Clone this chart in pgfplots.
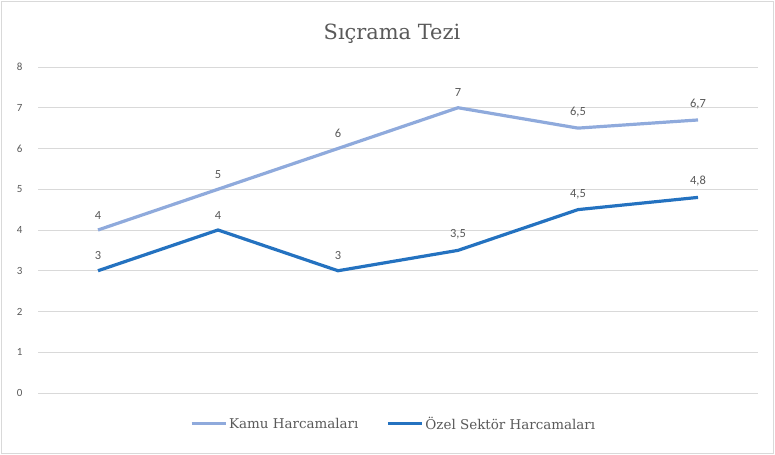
\documentclass[border=0pt]{standalone}
\usepackage{pgfplots}
\pgfplotsset{compat=1.18}
\usepackage{fontspec}
\setmainfont{Carlito}
\newfontfamily\serifcam{DejaVu Serif}
\definecolor{kamu}{RGB}{143,170,220}
\definecolor{ozel}{RGB}{36,114,192}
\definecolor{txt}{RGB}{89,89,89}
\definecolor{grd}{RGB}{217,217,217}
\begin{document}
\begin{tikzpicture}[x=1bp,y=1bp]
\useasboundingbox (0,0) rectangle (775,455);
\draw[grd, line width=1bp] (1.5,1.5) rectangle (773.5,453.5);
\node[txt, font=\serifcam\fontsize{21}{25}\selectfont] at (392,421) {Sıçrama Tezi};
\begin{axis}[
  at={(38bp,62bp)}, anchor=south west,
  scale only axis, width=720bp, height=326bp,
  xmin=-0.5, xmax=5.5, ymin=0, ymax=8,
  xtick=\empty, ytick={0,1,...,8},
  axis line style={draw=none},
  tick style={draw=none},
  ymajorgrids, grid style={grd, line width=0.8bp},
  yticklabel style={txt, font=\fontsize{11}{13}\selectfont, xshift=-12bp},
  /pgf/number format/assume math mode=true,
  /pgf/number format/use comma,
  nodes near coords,
  every node near coord/.append style={txt, font=\fontsize{12.5}{14}\selectfont, anchor=south, yshift=6bp},
  legend style={at={(0.494,-0.06)}, anchor=north, draw=none, fill=none,
    legend columns=2, font=\serifcam\fontsize{13.5}{16}\selectfont, text=txt,
    /tikz/every even column/.append style={column sep=26bp}},
  legend image code/.code={\draw[#1, line width=3bp] (0bp,0bp) -- (34bp,0bp);},
  clip=false,
]
\addplot[kamu, line width=3.2bp, mark=none] coordinates {(0,4) (1,5) (2,6) (3,7) (4,6.5) (5,6.7)};
\addlegendentry{Kamu Harcamaları}
\addplot[ozel, line width=3.2bp, mark=none] coordinates {(0,3) (1,4) (2,3) (3,3.5) (4,4.5) (5,4.8)};
\addlegendentry{Özel Sektör Harcamaları}
\end{axis}
\end{tikzpicture}
\end{document}
